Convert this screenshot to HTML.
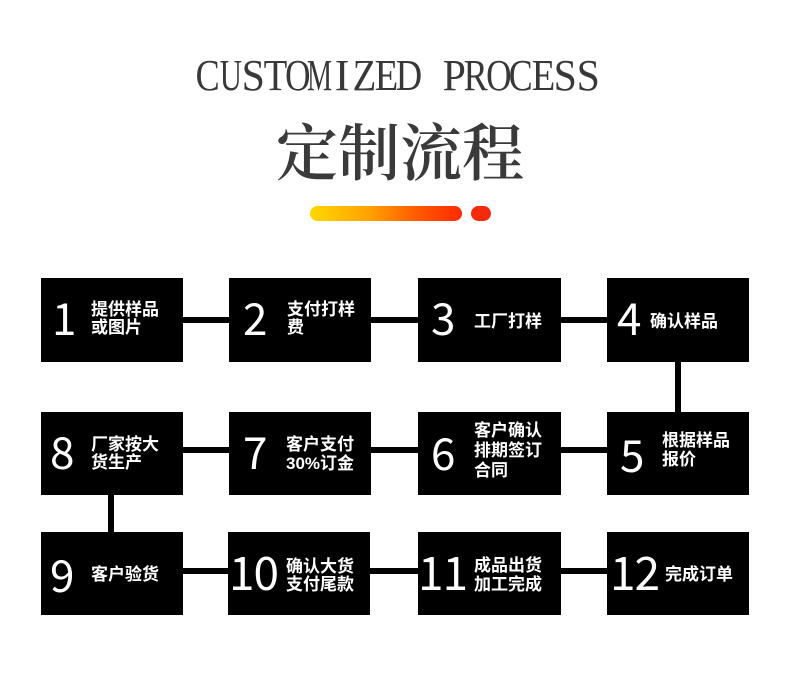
<!DOCTYPE html>
<html><head><meta charset="utf-8">
<style>
html,body{margin:0;padding:0;background:#fff;}
body{width:800px;height:677px;position:relative;overflow:hidden;}
.ttl{position:absolute;left:197px;top:54px;height:44px;display:flex;}
.ttl span{display:flex;justify-content:center;width:22.33px;height:44px;font-family:"Liberation Serif",serif;font-size:44px;line-height:44px;color:#383838;white-space:nowrap;}
.ttl span i{font-style:normal;display:block;}
.cn{position:absolute;left:0;width:800px;text-align:center;top:118px;font-family:"Noto Serif CJK SC","Liberation Serif",serif;font-weight:600;font-size:62px;line-height:62px;color:#3a3a3a;letter-spacing:0px;}
.bar{position:absolute;left:310px;top:206px;width:152px;height:15px;border-radius:7.5px;background:linear-gradient(90deg,#ffd800 0%,#ffa000 40%,#ff5a00 70%,#ff2a00 100%);}
.dot{position:absolute;left:471px;top:206px;width:20px;height:15px;border-radius:8px;background:#f52a0c;}
.b{position:absolute;background:#000;width:142px;}
.r1{top:278px;height:84px;}
.r2{top:412px;height:83px;}
.r3{top:532px;height:83px;}
.l{position:absolute;background:#000;}
.n{position:absolute;font-family:"Noto Sans CJK SC","Liberation Sans",sans-serif;font-weight:400;font-size:44px;line-height:44px;color:#fff;white-space:nowrap;}
.n2{font-size:46px;line-height:46px;letter-spacing:-1px;}
.t{position:absolute;font-family:"Liberation Sans","Noto Sans CJK SC",sans-serif;font-weight:700;font-size:17px;line-height:18px;color:#fff;white-space:nowrap;}
</style></head><body>
<div class="ttl"><span><i style="transform:scaleX(.82)">C</i></span><span><i style="transform:scaleX(.7)">U</i></span><span><i style="transform:scaleX(.95)">S</i></span><span><i style="transform:scaleX(.88)">T</i></span><span><i style="transform:scaleX(.8)">O</i></span><span><i style="transform:scaleX(.64)">M</i></span><span><i>I</i></span><span><i style="transform:scaleX(.88)">Z</i></span><span><i style="transform:scaleX(.88)">E</i></span><span><i style="transform:scaleX(.83)">D</i></span><span><i>&nbsp;</i></span><span><i style="transform:scaleX(.95)">P</i></span><span><i style="transform:scaleX(.82)">R</i></span><span><i style="transform:scaleX(.8)">O</i></span><span><i style="transform:scaleX(.82)">C</i></span><span><i style="transform:scaleX(.88)">E</i></span><span><i style="transform:scaleX(.95)">S</i></span><span><i style="transform:scaleX(.95)">S</i></span></div>
<div class="cn">定制流程</div>
<div class="bar"></div>
<div class="dot"></div>

<!-- connectors -->
<div class="l" style="left:182px;top:317px;width:48px;height:6px"></div>
<div class="l" style="left:370px;top:317px;width:49px;height:6px"></div>
<div class="l" style="left:560px;top:317px;width:48px;height:6px"></div>
<div class="l" style="left:182px;top:447px;width:48px;height:6px"></div>
<div class="l" style="left:370px;top:447px;width:49px;height:6px"></div>
<div class="l" style="left:560px;top:447px;width:48px;height:6px"></div>
<div class="l" style="left:182px;top:568px;width:48px;height:6px"></div>
<div class="l" style="left:369px;top:568px;width:50px;height:6px"></div>
<div class="l" style="left:560px;top:568px;width:48px;height:6px"></div>
<div class="l" style="left:675px;top:361px;width:6px;height:52px"></div>
<div class="l" style="left:108px;top:494px;width:6px;height:39px"></div>

<!-- boxes -->
<div class="b r1" style="left:41px"></div>
<div class="b r1" style="left:229px"></div>
<div class="b r1" style="left:418px;width:143px"></div>
<div class="b r1" style="left:607px"></div>
<div class="b r2" style="left:41px"></div>
<div class="b r2" style="left:229px"></div>
<div class="b r2" style="left:418px;width:143px"></div>
<div class="b r2" style="left:607px"></div>
<div class="b r3" style="left:41px"></div>
<div class="b r3" style="left:228px"></div>
<div class="b r3" style="left:418px;width:143px"></div>
<div class="b r3" style="left:607px"></div>

<!-- row 1 -->
<div class="n" style="left:52px;top:294px">1</div>
<div class="t" style="left:91px;top:301px">提供样品<br>或图片</div>
<div class="n" style="left:243px;top:294px">2</div>
<div class="t" style="left:287px;top:301px">支付打样<br>费</div>
<div class="n" style="left:431px;top:294px">3</div>
<div class="t" style="left:474px;top:313px">工厂打样</div>
<div class="n" style="left:617px;top:294px">4</div>
<div class="t" style="left:650px;top:313px">确认样品</div>

<!-- row 2 -->
<div class="n" style="left:50px;top:428px">8</div>
<div class="t" style="left:91px;top:436px">厂家按大<br>货生产</div>
<div class="n" style="left:243px;top:428px">7</div>
<div class="t" style="left:286px;top:435px;line-height:19px">客户支付<br>30%订金</div>
<div class="n" style="left:431px;top:429px">6</div>
<div class="t" style="left:474px;top:421px;line-height:20px">客户确认<br>排期签订<br>合同</div>
<div class="n" style="left:620px;top:431px">5</div>
<div class="t" style="left:662px;top:431px;line-height:19px">根据样品<br>报价</div>

<!-- row 3 -->
<div class="n" style="left:50px;top:551px">9</div>
<div class="t" style="left:91px;top:566px">客户验货</div>
<div class="n n2" style="left:229px;top:548px">10</div>
<div class="t" style="left:286px;top:558px">确认大货<br>支付尾款</div>
<div class="n n2" style="left:418px;top:548px">11</div>
<div class="t" style="left:474px;top:556px;line-height:19px">成品出货<br>加工完成</div>
<div class="n n2" style="left:610px;top:548px">12</div>
<div class="t" style="left:665px;top:566px">完成订单</div>
</body></html>
